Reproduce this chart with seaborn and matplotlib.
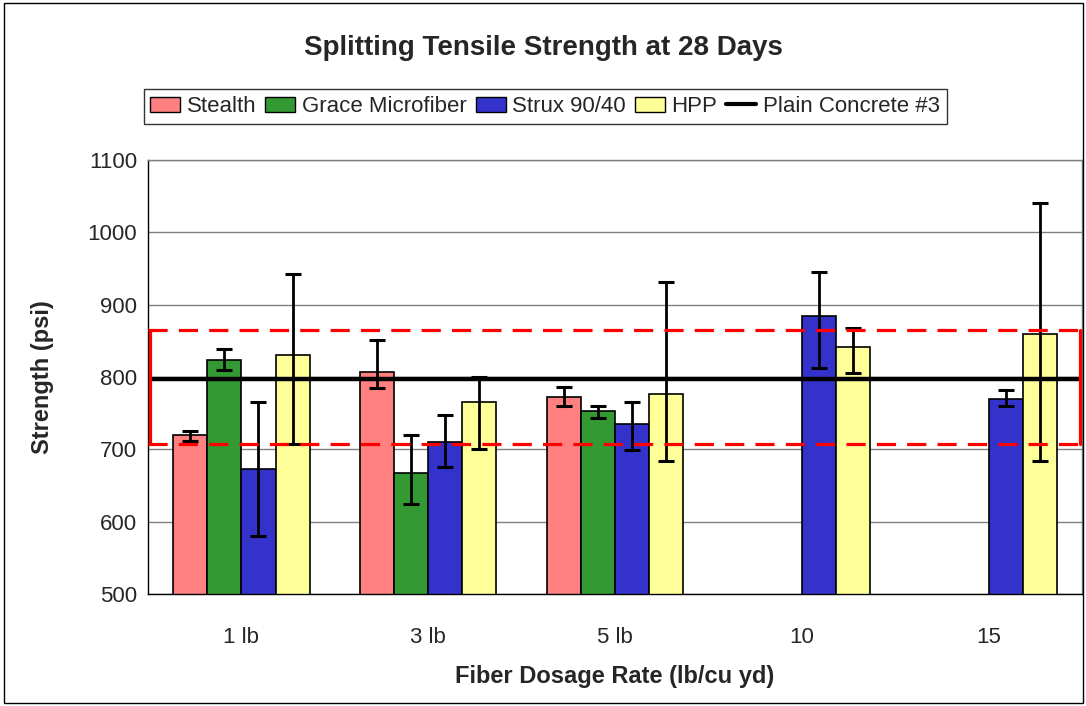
import numpy as np
import pandas as pd
import matplotlib
matplotlib.use("Agg")
import matplotlib.pyplot as plt
import seaborn as sns
from matplotlib.patches import Rectangle, Patch
from matplotlib.lines import Line2D

# chart values
dosages = ["1 lb", "3 lb", "5 lb", "10", "15"]
fibers = ["Stealth", "Grace Microfiber", "Strux 90/40", "HPP"]
stealth = [720, 807, 772, np.nan, np.nan]
grace = [824, 667, 753, np.nan, np.nan]
strux = [673, 710, 735, 884, 770]
hpp = [830, 766, 776, 841, 860]
# error bar ends (low, high) per fiber
stealth_lo = [712, 785, 760, np.nan, np.nan]
stealth_hi = [725, 851, 786, np.nan, np.nan]
grace_lo = [809, 624, 744, np.nan, np.nan]
grace_hi = [839, 720, 760, np.nan, np.nan]
strux_lo = [580, 675, 699, 812, 760]
strux_hi = [765, 748, 766, 945, 782]
hpp_lo = [708, 701, 684, 805, 684]
hpp_hi = [942, 800, 932, 868, 1041]
plain_concrete = 797
plain_band = [708, 865]

colors = ["#FF8080", "#339933", "#3333CC", "#FFFF99"]

values = [stealth, grace, strux, hpp]
lows = [stealth_lo, grace_lo, strux_lo, hpp_lo]
highs = [stealth_hi, grace_hi, strux_hi, hpp_hi]

rows = []
for f, vals in zip(fibers, values):
    for d, v in zip(dosages, vals):
        rows.append({"dosage": d, "fiber": f, "strength": v})
df = pd.DataFrame(rows)

sns.set_style("white")
plt.rcParams["font.family"] = ["Liberation Sans", "DejaVu Sans"]

fig = plt.figure(figsize=(10.86, 7.06), dpi=100)
ax = fig.add_axes([0.1363, 0.1586, 0.86, 0.6148])

bar_w = 0.73
sns.barplot(data=df, x="dosage", y="strength", hue="fiber", order=dosages,
            hue_order=fibers, palette=colors, width=bar_w, saturation=1,
            edgecolor="black", linewidth=1.2, errorbar=None, legend=False, ax=ax)

# error bars (asymmetric)
for i, f in enumerate(fibers):
    for j, d in enumerate(dosages):
        v = values[i][j]
        if np.isnan(v):
            continue
        x = j - bar_w / 2 + bar_w / 8 + i * bar_w / 4
        ax.errorbar(x, v, yerr=[[v - lows[i][j]], [highs[i][j] - v]],
                    fmt="none", ecolor="black", elinewidth=2, capsize=6,
                    capthick=2.2, zorder=5)

ax.axhline(plain_concrete, color="black", linewidth=3.2, zorder=6)

# dashed band around plain concrete
ax.plot([-0.5, 4.5], [plain_band[1]] * 2, color="red", linewidth=2.3,
        linestyle=(0, (6, 3.5)), zorder=7, clip_on=False)
ax.plot([-0.5, 4.5], [plain_band[0]] * 2, color="red", linewidth=2.3,
        linestyle=(0, (6, 3.5)), zorder=7, clip_on=False)
ax.plot([-0.49, -0.49], plain_band, color="red", linewidth=2.3, zorder=7, clip_on=False)
ax.plot([4.49, 4.49], plain_band, color="red", linewidth=2.3, zorder=7, clip_on=False)

ax.set_ylim(500, 1100)
ax.set_xlim(-0.5, 4.5)
ax.set_yticks(range(500, 1101, 100))
ax.yaxis.grid(True, color="#808080", linewidth=1)
ax.set_axisbelow(True)
ax.set_xticks(np.arange(-0.5, 5, 1))
ax.set_xticklabels([])
ax.set_xticks(range(5), minor=True)
ax.set_xticklabels(dosages, minor=True)
ax.tick_params(axis="x", which="major", direction="out", length=7, color="black", width=1)
ax.tick_params(axis="x", which="minor", length=0, pad=24, labelsize=16)
ax.tick_params(axis="y", direction="out", length=6, color="black", labelsize=16, pad=2)
for s in ["top", "right"]:
    ax.spines[s].set_color("#808080")
for s in ["left", "bottom"]:
    ax.spines[s].set_color("black")
for s in ax.spines.values():
    s.set_visible(True)
    s.set_linewidth(1)

ax.set_xlabel("Fiber Dosage Rate (lb/cu yd)", fontsize=17, fontweight="bold", labelpad=12)
ax.set_ylabel("Strength (psi)", fontsize=17, fontweight="bold", labelpad=24)

fig.suptitle("Splitting Tensile Strength at 28 Days", fontsize=20, fontweight="bold",
             y=0.95)

handles = [Patch(facecolor=c, edgecolor="black", linewidth=1) for c in colors]
handles.append(Line2D([0], [0], color="black", linewidth=3))
leg = fig.legend(handles, fibers + ["Plain Concrete #3"], loc="center",
                 bbox_to_anchor=(0.502, 0.849), ncol=5, fontsize=16, frameon=True,
                 fancybox=False, edgecolor="black", handlelength=1.35,
                 handletextpad=0.3, columnspacing=0.4, borderpad=0.3,
                 borderaxespad=0)
leg.get_frame().set_linewidth(1)

fig.patches.append(Rectangle((0.004, 0.004), 0.993, 0.992, transform=fig.transFigure,
                             fill=False, edgecolor="black", linewidth=1))

fig.savefig("out.png", dpi=100)
